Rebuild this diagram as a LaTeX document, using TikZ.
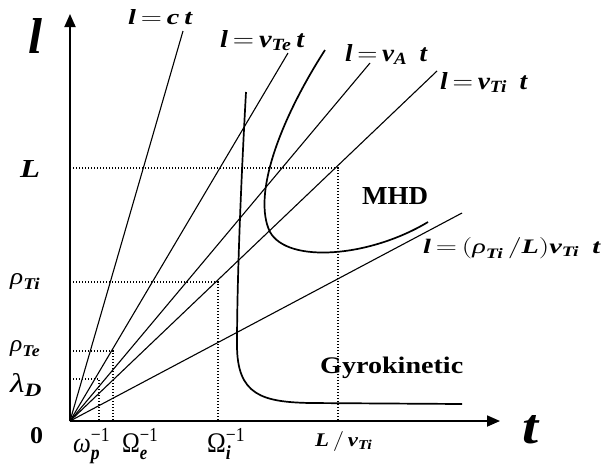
\documentclass[tikz,border=0pt]{standalone}
\usepackage{fontspec}
\usepackage{amsmath}
\usepackage{graphicx}
\setmainfont{Liberation Serif}
\usetikzlibrary{arrows.meta}
\newcommand\bi[1]{\text{\bfseries\itshape #1}}
\newcommand\fs[1]{\fontsize{#1}{#1}\selectfont}
\newcommand\fit[3]{\resizebox{#1}{#2}{#3}}
\begin{document}
\begin{tikzpicture}[x=1pt,y=-1pt,
  ax/.style={line width=1.8pt,-{Triangle[length=13pt,width=11pt]}},
  ray/.style={line width=1.1pt},
  dots/.style={line width=1.4pt,dash pattern=on 1.4pt off 1.6pt},
  bound/.style={line width=1.7pt},
  lab/.style={inner sep=0pt,anchor=base west,font=\fs{24}},
  region/.style={inner sep=0pt,anchor=base west,font=\fs{26}\bfseries}]
\useasboundingbox (0,0) rectangle (604,464);
% axes
\coordinate (O) at (70,421);
\coordinate (ytip) at (70,14);
\coordinate (xtip) at (500,421);
\draw[ax] (O) -- (ytip);
\draw[ax] (O) -- (xtip);
% dotted guides
\coordinate (yL) at (70,168); \coordinate (pL) at (338,168); \coordinate (xL) at (338,421);
\coordinate (yRi) at (70,282); \coordinate (pRi) at (218,282); \coordinate (xRi) at (218,421);
\coordinate (yRe) at (70,351); \coordinate (pRe) at (113,351); \coordinate (xRe) at (113,421);
\coordinate (yLd) at (70,379); \coordinate (pLd) at (99,379); \coordinate (xLd) at (99,421);
\draw[dots] (yL) -- (pL) -- (xL);
\draw[dots] (yRi) -- (pRi) -- (xRi);
\draw[dots] (yRe) -- (pRe) -- (xRe);
\draw[dots] (yLd) -- (pLd) -- (xLd);
% rays
\coordinate (ec) at (183,31);
\coordinate (eTe) at (288,53);
\coordinate (eA) at (370,63);
\coordinate (eTi) at (437,71);
\coordinate (eGy) at (462,213);
\draw[ray] (O) -- (ec);
\draw[ray] (O) -- (eTe);
\draw[ray] (O) -- (eA);
\draw[ray] (O) -- (eTi);
\draw[ray] (O) -- (eGy);
% boundary curves
\coordinate (g0) at (246,92);
\coordinate (g1) at (237,345);
\coordinate (g2) at (310,403);
\coordinate (g3) at (462,404);
\draw[bound] (g0) .. controls (240,200) and (237,290) .. (g1)
  .. controls (237,395) and (262,402) .. (g2) -- (g3);
\coordinate (m0) at (325,50);
\coordinate (m1) at (270,232);
\coordinate (m2) at (428,222);
\draw[bound] (m0) .. controls (280,120) and (252,195) .. (m1)
  .. controls (288,264) and (370,257) .. (m2);
% axis labels
\node[lab,font=\fs{51}\bfseries\itshape] (lAx) at (28,53) {\fit{14pt}{35pt}{l}};
\node[lab,font=\fs{46}\bfseries\itshape] (tAx) at (522,443) {\fit{16pt}{28pt}{t}};
\node[lab,font=\fs{26}\bfseries\itshape] (Llab) at (20,177) {\fit{20pt}{17pt}{L}};
\node[lab] (rTi) at (10,284) {\fit{30pt}{11pt}{$\text{\itshape ρ}_{\bi{Ti}}$}};
\node[lab] (rTe) at (10,351) {\fit{30pt}{11pt}{$\text{\itshape ρ}_{\bi{Te}}$}};
\node[lab] (lD) at (10,392) {\fit{32pt}{19pt}{$\text{\itshape λ}_{\bi{D}}$}};
\node[lab,font=\fs{24}\bfseries] (zero) at (30,443) {\fit{13pt}{16pt}{0}};
\node[lab] (wp) at (73,452) {\fit{37pt}{24pt}{$\text{\itshape ω}^{\text{−1}}_{\bi{p}}$}};
\node[lab] (We) at (122,452) {\fit{36pt}{24pt}{$\text{Ω}^{\text{−1}}_{\bi{e}}$}};
\node[lab] (Wi) at (207,452) {\fit{38pt}{24pt}{$\text{Ω}^{\text{−1}}_{\bi{i}}$}};
\node[lab] (LvTi) at (315,446) {\fit{57pt}{15pt}{$\bi{L}\,/\,\bi{v}_{\bi{Ti}}$}};
% ray labels
\node[lab] (lc) at (128,24) {\fit{64pt}{15pt}{$\bi{l}\,{=}\,\bi{c}\,\bi{t}$}};
\node[lab] (lTe) at (220,47) {\fit{84pt}{17pt}{$\bi{l}\,{=}\,\bi{v}_{\bi{Te}}\,\bi{t}$}};
\node[lab] (lA) at (345,61) {\fit{82pt}{17pt}{$\bi{l}\,{=}\,\bi{v}_{\bi{A}}\;\,\bi{t}$}};
\node[lab] (lTi) at (440,89) {\fit{87pt}{17pt}{$\bi{l}\,{=}\,\bi{v}_{\bi{Ti}}\;\,\bi{t}$}};
\node[lab] (lGy) at (423,253) {\fit{177pt}{16pt}{$\bi{l}\,{=}\,(\text{\itshape ρ}_{\bi{Ti}}\,/\bi{L})\bi{v}_{\bi{Ti}}\;\,\bi{t}$}};
% regions
\node[region] (mhd) at (362,204) {\fit{66pt}{17pt}{MHD}};
\node[region] (gyro) at (320,373) {\fit{143pt}{16.5pt}{Gyrokinetic}};
\end{tikzpicture}
\end{document}
